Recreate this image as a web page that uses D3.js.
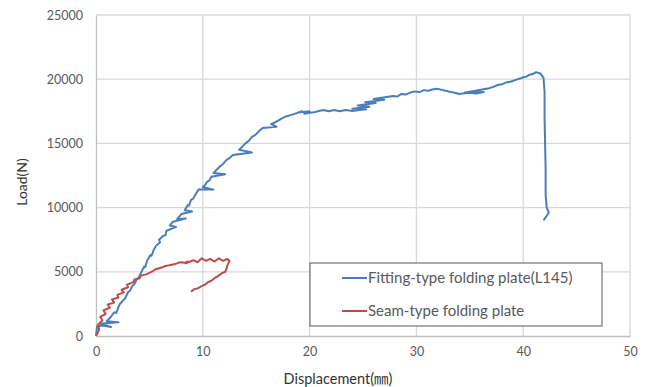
<!DOCTYPE html>
<html>
<head>
<meta charset="utf-8">
<script src="https://cdn.jsdelivr.net/npm/d3@7"></script>
<style>
  body { margin: 0; background: #fff; }
  svg text { font-family: Lato, "Noto Sans", sans-serif; }
</style>
</head>
<body>
<div id="chart"></div>
<script>
// Data (displacement mm, load N)
const fittingSeries = [
  [0, 0], [0.1, 750], [0.6, 820], [1.4, 700], [0.4, 950], [2.1, 1080], [1.0, 1150],
  [1.4, 1500], [1.7, 1850], [1.9, 1800], [2.2, 2450], [2.5, 2750], [2.7, 2900],
  [3.0, 3400], [3.2, 3550], [3.4, 3900], [3.6, 4050], [3.8, 4400], [4.0, 4550],
  [4.2, 4900], [4.5, 5400], [4.6, 5350], [4.8, 5900], [5.1, 6300], [5.2, 6250],
  [5.4, 6700], [5.6, 7000], [6.0, 7300], [5.9, 7500], [6.3, 7800], [6.5, 7850],
  [6.6, 8200], [7.5, 8500], [6.9, 8600], [7.2, 8900], [8.4, 9150], [7.6, 9100],
  [8.0, 9500], [9.0, 9700], [8.3, 9800], [8.6, 10200], [8.7, 10150], [8.9, 10600],
  [9.1, 10700], [9.3, 11000], [9.6, 11400], [11.0, 11400], [10.0, 11600],
  [10.2, 11750], [10.4, 12000], [10.6, 12100], [10.8, 12400], [12.1, 12600],
  [11.0, 12700], [11.3, 12950], [11.6, 13200], [11.9, 13400], [12.2, 13700],
  [12.5, 13850], [12.8, 14100], [14.6, 14300], [13.4, 14500], [13.7, 14750],
  [14.0, 15000], [14.3, 15200], [14.6, 15500], [14.9, 15650], [15.2, 15900],
  [15.6, 16200], [16.9, 16300], [16.4, 16500], [16.8, 16650], [17.1, 16800],
  [17.4, 16950], [17.8, 17100], [18.2, 17200], [18.6, 17300], [19.3, 17500],
  [18.9, 17400], [20.0, 17500], [19.5, 17300], [20.5, 17450], [21.0, 17550],
  [21.3, 17600], [21.8, 17500], [22.3, 17600], [22.8, 17500], [23.4, 17600],
  [24.0, 17520], [24.5, 17580], [25.3, 17650], [24.0, 17700], [25.6, 17850],
  [24.5, 17950], [26.2, 18150], [25.2, 18200], [27.0, 18400], [26.0, 18450],
  [27.8, 18700], [28.2, 18650], [28.6, 18850], [29.0, 18800], [29.4, 18950],
  [29.8, 19050], [30.3, 19000], [30.7, 19150], [31.1, 19100], [31.5, 19200],
  [31.9, 19250], [32.5, 19150], [33.2, 19000], [33.6, 18950], [34.0, 18850],
  [34.5, 18900], [35.0, 18950], [35.6, 18880], [36.3, 19000], [34.5, 18950],
  [36.8, 19300], [37.2, 19400], [37.6, 19550], [38.0, 19600], [38.4, 19750],
  [38.8, 19800], [39.3, 19950], [39.7, 20050], [40.0, 20150], [40.3, 20200],
  [40.6, 20350], [40.9, 20400], [41.2, 20550], [41.6, 20450], [41.9, 20100],
  [42.0, 19000], [42.0, 17000], [42.05, 15000], [42.1, 13000], [42.1, 11000],
  [42.2, 10000], [42.4, 9600], [41.9, 9000]
];

const seamSeries = [
  [0, 0], [0.3, 500], [0.2, 900], [0.6, 1200], [0.4, 1500], [0.9, 1700], [0.7, 2000],
  [1.3, 2200], [1.1, 2450], [1.7, 2600], [1.5, 2850], [2.1, 3000], [2.0, 3200],
  [2.6, 3400], [2.4, 3600], [3.0, 3800], [2.9, 4000], [3.5, 4200], [3.6, 4400],
  [4.1, 4500], [4.2, 4700], [4.7, 4800], [5.1, 4950], [5.4, 5100], [5.6, 5200],
  [6.0, 5300], [6.2, 5350], [6.5, 5450], [6.8, 5500], [7.1, 5550], [7.4, 5600],
  [7.7, 5700], [8.0, 5750], [8.3, 5700], [8.6, 5800], [8.4, 5650], [9.1, 5900],
  [9.5, 5750], [9.9, 6050], [10.3, 5850], [10.7, 6000], [11.1, 5800], [11.5, 6050],
  [11.9, 5850], [12.3, 6000], [12.5, 5850], [12.3, 5500], [12.2, 5200], [12.1, 5000],
  [11.8, 4900], [11.5, 4700], [11.1, 4500], [10.8, 4300], [10.5, 4200], [10.2, 4000],
  [9.8, 3850], [9.5, 3700], [9.2, 3650], [8.9, 3450]
];

const seriesNames = ["Fitting-type folding plate(L145)", "Seam-type folding plate"];
const seriesColors = ["#4A7EBB", "#BE4B48"];
const xTicks = [0, 10, 20, 30, 40, 50];
const yTicks = [0, 5000, 10000, 15000, 20000, 25000];

// Dimensions
const width = 646, height = 387;
const margin = { top: 15, right: 16, bottom: 51, left: 96 };
const ctrWidth = width - margin.left - margin.right;
const ctrHeight = height - margin.top - margin.bottom;

const svg = d3.select("#chart").append("svg")
  .attr("width", width)
  .attr("height", height);

const ctr = svg.append("g")
  .attr("transform", `translate(${margin.left}, ${margin.top})`);

// Scales
const xScale = d3.scaleLinear().domain([0, 50]).range([0, ctrWidth]);
const yScale = d3.scaleLinear().domain([0, 25000]).range([ctrHeight, 0]);

// Grid
ctr.append("g")
  .selectAll("line")
  .data(yTicks.slice(1))
  .join("line")
  .attr("x1", 0).attr("x2", ctrWidth)
  .attr("y1", (d) => yScale(d)).attr("y2", (d) => yScale(d))
  .attr("stroke", "#d9d9d9").attr("stroke-width", 1.3);

ctr.append("g")
  .selectAll("line")
  .data(xTicks.slice(1))
  .join("line")
  .attr("x1", (d) => xScale(d)).attr("x2", (d) => xScale(d))
  .attr("y1", 0).attr("y2", ctrHeight)
  .attr("stroke", "#d9d9d9").attr("stroke-width", 1.3);

// Axes
const xAxis = d3.axisBottom(xScale).tickValues(xTicks).tickFormat(d3.format("d")).tickSize(0).tickPadding(11);
const yAxis = d3.axisLeft(yScale).tickValues(yTicks).tickFormat(d3.format("d")).tickSize(0).tickPadding(13);

const gx = ctr.append("g").attr("transform", `translate(0, ${ctrHeight})`).call(xAxis);
const gy = ctr.append("g").call(yAxis);
[gx, gy].forEach((g) => {
  g.select(".domain").attr("stroke", "#bfbfbf").attr("stroke-width", 1.3);
  g.selectAll("text").attr("fill", "#595959").style("font-size", "12.5px");
});

// Lines
const lineGenerator = d3.line()
  .x((d) => xScale(d[0]))
  .y((d) => yScale(d[1]));

[fittingSeries, seamSeries].forEach((data, i) => {
  ctr.append("path")
    .datum(data)
    .attr("d", lineGenerator)
    .attr("fill", "none")
    .attr("stroke", seriesColors[i])
    .attr("stroke-width", 2)
    .attr("stroke-linejoin", "round");
});

// Axis titles
const xTitle = svg.append("text")
  .attr("x", 338).attr("y", 384)
  .attr("text-anchor", "middle")
  .attr("fill", "#333")
  .style("font-size", "14.5px");
xTitle.append("tspan").text("Displacement(");
xTitle.append("tspan").style("font-family", "'Noto Sans CJK JP', 'Noto Sans CJK SC'").text("㎜");
xTitle.append("tspan").text(")");

svg.append("text")
  .attr("transform", "translate(27, 182) rotate(-90)")
  .attr("text-anchor", "middle")
  .attr("fill", "#333")
  .style("font-size", "14px")
  .text("Load(N)");

// Legend
const legend = svg.append("g").attr("transform", "translate(310, 263)");
legend.append("rect")
  .attr("width", 292).attr("height", 63)
  .attr("fill", "#fff")
  .attr("stroke", "#595959").attr("stroke-width", 1);

const items = legend.selectAll("g")
  .data(seriesNames)
  .join("g")
  .attr("transform", (d, i) => `translate(32, ${15 + i * 33})`);

items.append("line")
  .attr("x1", 0).attr("x2", 25)
  .attr("stroke", (d, i) => seriesColors[i])
  .attr("stroke-width", 2);

items.append("text")
  .attr("x", 26).attr("y", 5)
  .attr("fill", "#595959")
  .style("font-size", "15px")
  .text((d) => d);
</script>
</body>
</html>
